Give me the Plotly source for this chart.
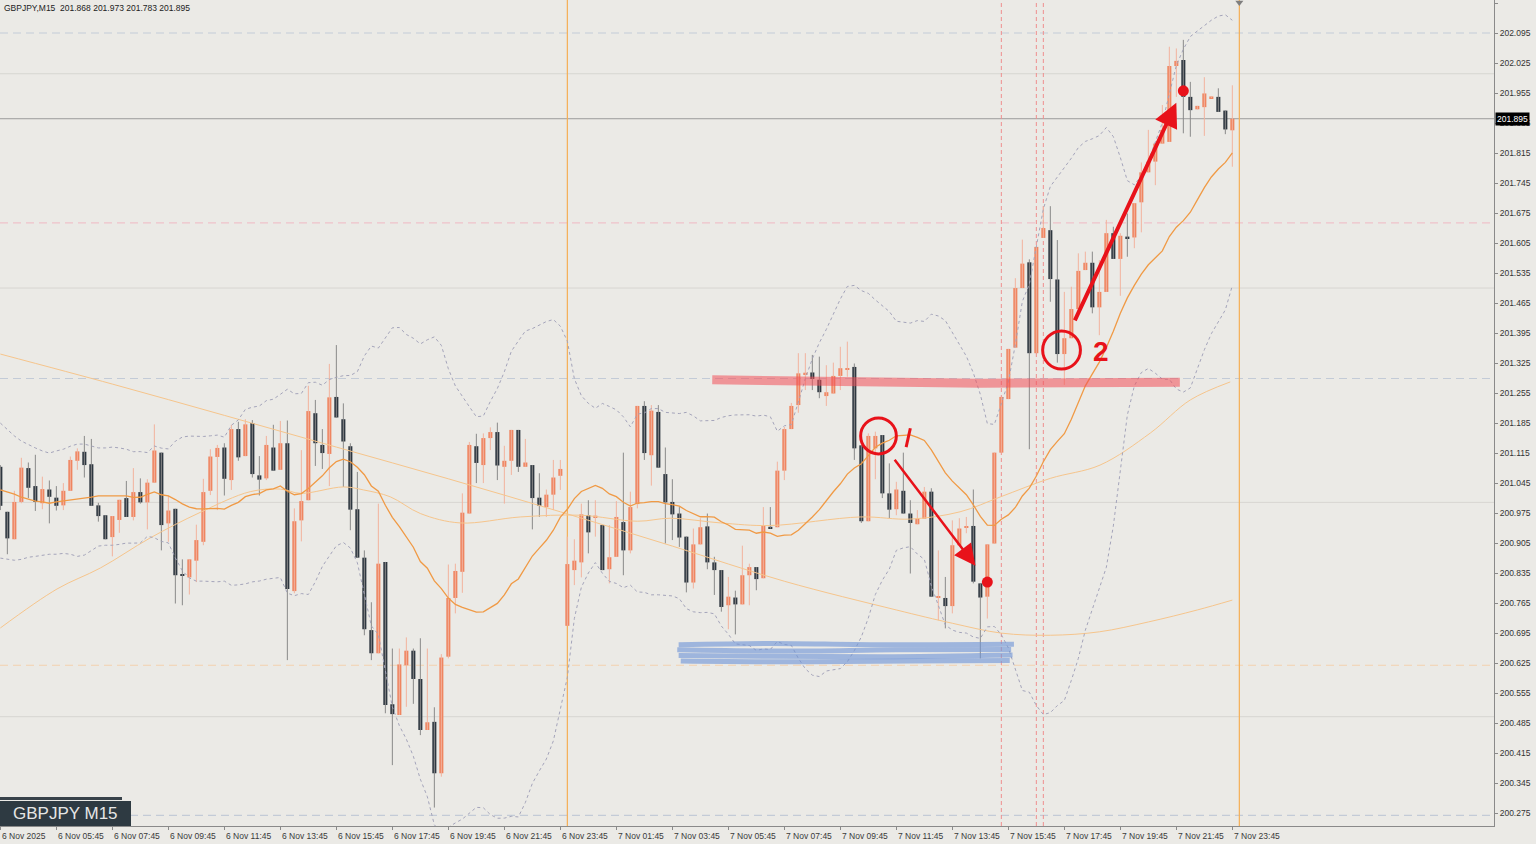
import numpy as np
import plotly.graph_objects as go

# ---------------- data ----------------
title_text = "GBPJPY,M15  201.868 201.973 201.783 201.895"
badge_text = "GBPJPY M15"
last_price = 201.895

time_labels = ["6 Nov 2025", "6 Nov 05:45", "6 Nov 07:45", "6 Nov 09:45", "6 Nov 11:45",
               "6 Nov 13:45", "6 Nov 15:45", "6 Nov 17:45", "6 Nov 19:45", "6 Nov 21:45",
               "6 Nov 23:45", "7 Nov 01:45", "7 Nov 03:45", "7 Nov 05:45", "7 Nov 07:45",
               "7 Nov 09:45", "7 Nov 11:45", "7 Nov 13:45", "7 Nov 15:45", "7 Nov 17:45",
               "7 Nov 19:45", "7 Nov 21:45", "7 Nov 23:45"]
label_bars = list(range(0, 177, 8))

opens = [
    201.083, 200.978, 200.914, 201.001, 201.080, 201.038, 200.998, 201.030, 201.011, 200.993,
    201.027, 201.097, 201.118, 201.089, 200.993, 200.970, 200.919, 200.959, 201.010, 200.966,
    201.024, 201.000, 201.046, 201.116, 200.951, 200.985, 200.832, 200.825, 200.864, 200.908,
    201.027, 201.106, 201.128, 201.052, 201.171, 201.108, 201.185, 201.063, 201.056, 201.128,
    201.076, 201.138, 200.793, 200.958, 201.005, 201.208, 201.134, 201.113, 201.246, 201.194,
    201.131, 200.984, 200.871, 200.702, 200.648, 200.861, 200.529, 200.504, 200.620, 200.654,
    200.588, 200.469, 200.488, 200.368, 200.640, 200.777, 200.838, 200.974, 201.131, 201.087,
    201.150, 201.164, 201.083, 201.097, 201.169, 201.083, 201.087, 201.011, 200.989, 201.018,
    201.062, 200.712, 200.842, 200.860, 200.970, 200.966, 200.947, 200.844, 200.873, 200.954,
    200.888, 200.996, 201.225, 201.110, 201.211, 201.066, 201.001, 200.974, 200.920, 200.813,
    200.902, 200.944, 200.860, 200.842, 200.760, 200.778, 200.762, 200.830, 200.849, 200.823,
    200.943, 200.942, 201.074, 201.171, 201.227, 201.299, 201.303, 201.286, 201.248, 201.254,
    201.295, 201.310, 201.316, 201.133, 200.956, 201.126, 201.157, 201.021, 200.984, 201.027,
    200.974, 200.949, 200.962, 201.025, 200.778, 200.777, 200.758, 200.900, 200.942, 200.945,
    200.811, 200.780, 200.904, 201.116, 201.241, 201.361, 201.500, 201.560, 201.348, 201.617,
    201.635, 201.520, 201.346, 201.383, 201.451, 201.542, 201.559, 201.455, 201.491, 201.628,
    201.568, 201.619, 201.618, 201.700, 201.770, 201.795, 201.837, 201.841, 202.018, 202.032,
    201.946, 201.917, 201.922, 201.944, 201.946, 201.914, 201.868]

highs = [
    201.087, 200.978, 201.027, 201.104, 201.093, 201.111, 201.060, 201.051, 201.038, 201.045,
    201.107, 201.126, 201.155, 201.148, 200.999, 200.970, 200.968, 201.006, 201.050, 201.080,
    201.056, 201.054, 201.182, 201.116, 201.016, 200.985, 200.867, 200.867, 200.948, 201.055,
    201.124, 201.134, 201.138, 201.181, 201.188, 201.194, 201.192, 201.108, 201.155, 201.181,
    201.190, 201.191, 200.986, 201.122, 201.272, 201.239, 201.171, 201.323, 201.367, 201.231,
    201.138, 201.071, 200.888, 200.767, 200.997, 200.861, 200.659, 200.659, 200.685, 200.659,
    200.683, 200.659, 200.522, 200.646, 200.855, 200.857, 201.021, 201.141, 201.160, 201.161,
    201.175, 201.186, 201.132, 201.169, 201.169, 201.148, 201.087, 201.068, 201.030, 201.099,
    201.099, 200.920, 200.914, 200.997, 201.005, 201.005, 200.947, 200.947, 201.003, 201.116,
    201.025, 201.225, 201.236, 201.227, 201.227, 201.128, 201.054, 200.989, 200.920, 200.939,
    200.963, 200.974, 200.873, 200.842, 200.826, 200.794, 200.899, 200.857, 200.849, 200.989,
    200.989, 201.095, 201.176, 201.232, 201.348, 201.348, 201.344, 201.340, 201.320, 201.326,
    201.363, 201.375, 201.324, 201.133, 201.161, 201.165, 201.157, 201.091, 201.048, 201.116,
    201.005, 200.982, 201.036, 201.033, 200.888, 200.826, 200.958, 200.963, 200.966, 201.030,
    200.811, 200.902, 201.116, 201.246, 201.358, 201.523, 201.613, 201.567, 201.596, 201.691,
    201.691, 201.612, 201.491, 201.503, 201.581, 201.585, 201.585, 201.565, 201.659, 201.643,
    201.628, 201.674, 201.698, 201.793, 201.869, 201.837, 201.927, 202.063, 202.059, 202.079,
    201.981, 201.925, 201.992, 201.946, 201.966, 201.914, 201.973]

lows = [
    200.982, 200.879, 200.914, 200.998, 201.010, 200.980, 200.984, 200.951, 200.981, 200.982,
    201.027, 201.076, 201.058, 200.992, 200.955, 200.914, 200.874, 200.929, 200.966, 200.958,
    200.997, 200.937, 201.046, 200.888, 200.908, 200.764, 200.760, 200.785, 200.814, 200.900,
    201.017, 200.982, 201.016, 201.029, 201.097, 201.108, 201.058, 201.016, 201.052, 201.074,
    201.076, 200.632, 200.788, 200.909, 201.005, 201.085, 201.078, 201.038, 201.198, 201.036,
    200.935, 200.871, 200.690, 200.632, 200.648, 200.508, 200.387, 200.504, 200.523, 200.530,
    200.457, 200.469, 200.288, 200.360, 200.636, 200.741, 200.789, 200.974, 201.045, 201.045,
    201.122, 201.052, 200.997, 201.064, 201.071, 201.083, 200.937, 200.966, 200.966, 200.982,
    201.029, 200.712, 200.807, 200.825, 200.881, 200.920, 200.842, 200.811, 200.873, 200.830,
    200.881, 200.986, 201.099, 201.039, 201.081, 200.904, 200.912, 200.896, 200.790, 200.799,
    200.902, 200.844, 200.784, 200.745, 200.704, 200.692, 200.762, 200.760, 200.795, 200.823,
    200.939, 200.942, 201.052, 201.171, 201.209, 201.262, 201.262, 201.243, 201.225, 201.254,
    201.262, 201.293, 201.099, 200.952, 200.956, 201.054, 201.010, 200.963, 200.970, 200.974,
    200.834, 200.949, 200.962, 200.780, 200.725, 200.706, 200.741, 200.900, 200.928, 200.811,
    200.636, 200.729, 200.904, 201.116, 201.241, 201.361, 201.500, 201.124, 201.348, 201.617,
    201.468, 201.326, 201.274, 201.383, 201.441, 201.542, 201.441, 201.390, 201.491, 201.568,
    201.482, 201.573, 201.593, 201.630, 201.770, 201.740, 201.837, 201.841, 201.946, 201.861,
    201.853, 201.917, 201.855, 201.943, 201.911, 201.859, 201.783]

closes = [
    200.992, 200.916, 201.001, 201.081, 201.034, 201.001, 201.031, 201.013, 200.992, 201.027,
    201.099, 201.119, 201.087, 200.992, 200.968, 200.914, 200.968, 201.006, 200.966, 201.024,
    201.000, 201.046, 201.121, 200.947, 200.981, 200.830, 200.829, 200.867, 200.912, 201.024,
    201.107, 201.127, 201.055, 201.171, 201.105, 201.182, 201.066, 201.053, 201.134, 201.074,
    201.138, 200.798, 200.956, 201.003, 201.213, 201.138, 201.115, 201.245, 201.198, 201.142,
    200.983, 200.871, 200.704, 200.648, 200.857, 200.527, 200.506, 200.622, 200.654, 200.588,
    200.469, 200.487, 200.368, 200.638, 200.777, 200.840, 200.976, 201.134, 201.092, 201.150,
    201.164, 201.086, 201.097, 201.169, 201.083, 201.093, 201.010, 200.992, 201.018, 201.058,
    201.078, 200.856, 200.864, 200.972, 200.930, 200.968, 200.842, 200.872, 200.966, 200.888,
    200.989, 201.225, 201.115, 201.214, 201.081, 201.000, 200.972, 200.918, 200.813, 200.902,
    200.942, 200.860, 200.842, 200.756, 200.780, 200.762, 200.830, 200.849, 200.821, 200.945,
    200.939, 201.074, 201.171, 201.225, 201.301, 201.302, 201.288, 201.257, 201.257, 201.295,
    201.313, 201.313, 201.126, 200.956, 201.155, 201.155, 201.021, 200.983, 201.030, 200.974,
    200.952, 200.962, 201.025, 200.780, 200.780, 200.758, 200.900, 200.939, 200.943, 200.815,
    200.778, 200.902, 201.116, 201.246, 201.358, 201.500, 201.557, 201.348, 201.596, 201.640,
    201.521, 201.346, 201.383, 201.451, 201.540, 201.559, 201.455, 201.491, 201.628, 201.568,
    201.622, 201.617, 201.698, 201.770, 201.795, 201.837, 201.869, 202.018, 202.030, 201.946,
    201.915, 201.925, 201.954, 201.946, 201.911, 201.870, 201.895]

# Bollinger(20,2) values for the first 19 bars (history not visible)
bb_mid_head = [201.029, 201.024, 201.019, 201.012, 201.008, 201.003, 201.001, 200.998, 201.001, 201.003,
               201.005, 201.008, 201.010, 201.012, 201.015, 201.015, 201.015, 201.015, 201.015]
bb_up_head = [201.185, 201.169, 201.155, 201.143, 201.134, 201.127, 201.120, 201.115, 201.120, 201.124,
              201.131, 201.136, 201.136, 201.131, 201.127, 201.127, 201.129, 201.127, 201.124]
bb_lo_head = [200.870, 200.867, 200.865, 200.867, 200.872, 200.874, 200.877, 200.879, 200.879, 200.881,
              200.879, 200.874, 200.877, 200.888, 200.898, 200.900, 200.900, 200.902, 200.905]
bb_period = 20

# slow moving average
ma_slow_bars = [0, 16, 32, 48, 64, 80, 96, 112, 128, 136, 143, 150, 157, 164, 171, 176]
ma_slow_vals = [201.346, 201.276, 201.203, 201.129, 201.055, 200.978, 200.898, 200.816, 200.749,
                200.718, 200.695, 200.690, 200.698, 200.721, 200.749, 200.772]
# medium moving average
ma_med_bars = [0, 8.1, 14.3, 21.4, 28.6, 35.7, 40, 42.9, 49, 51.9, 55.7, 60, 65.7, 74.3, 82.9, 91,
               95.7, 102.9, 110, 122.9, 130, 137.1, 142.9, 150, 157.1, 164.3, 170, 175.7]
ma_med_vals = [200.707, 200.798, 200.847, 200.917, 200.977, 201.025, 201.031, 201.021, 201.036, 201.029,
               201.013, 200.974, 200.952, 200.966, 200.970, 200.956, 200.963, 200.952, 200.946, 200.966,
               200.961, 200.978, 201.013, 201.056, 201.087, 201.162, 201.239, 201.281]

# reference levels
solid_levels = [202.0, 201.5, 201.0, 200.5]
dashed_levels = [202.095, 201.289, 200.270]
pink_level = 201.652
peach_level = 200.620
day_sep_bars = [81, 177]
event_bars = [143, 148, 149]

# hand-drawn markup (bar index, price)
red_zone_bars = [101.7, 120, 140, 168.5]
red_zone_prices = [201.286, 201.282, 201.278, 201.280]
blue_zone_bars = [[96.9, 110, 125, 144.8], [96.7, 112, 128, 144.4],
                  [96.9, 110, 126, 144.6], [97.2, 114, 130, 144.2]]
blue_zone_prices = [[200.668, 200.671, 200.668, 200.669], [200.656, 200.653, 200.656, 200.657],
                    [200.643, 200.641, 200.640, 200.644], [200.630, 200.628, 200.630, 200.631]]
circle_1 = (122.9, 128.0, 201.113, 201.197)
circle_2 = (148.9, 154.3, 201.311, 201.400)
arrow_1 = ((127.6, 201.103), (139.3, 200.852))
arrow_2 = ((153.4, 201.421), (168.0, 201.932))
dot_bars = [141.0, 169.0]
dot_prices = [200.814, 201.960]
mark_1 = ((129.4, 201.129), (130.0, 201.173))
label_2 = (157.3, 201.351)

# ---------------- styling ----------------
BG = "#EBEAE6"
BULL = "#EF8560"
BEAR = "#2E3740"
BULL_WICK = "#F2B39E"
BEAR_WICK = "#8A8A8A"
RED = "#E8121A"
FONT = "Liberation Sans"

o = np.array(opens); h = np.array(highs); l = np.array(lows); c = np.array(closes)
n = len(c)
idx = np.arange(n)
bull = c >= o

# Bollinger bands
mid = np.empty(n); up = np.empty(n); lo = np.empty(n)
for i in range(n):
    if i < bb_period - 1:
        mid[i], up[i], lo[i] = bb_mid_head[i], bb_up_head[i], bb_lo_head[i]
    else:
        w = c[i - bb_period + 1:i + 1]
        m = w.mean(); s = w.std()
        mid[i], up[i], lo[i] = m, m + 2 * s, m - 2 * s

fig = go.Figure()

# wicks
def wick_trace(mask, color):
    xs, ys = [], []
    for i in idx[mask]:
        xs += [i, i, None]
        ys += [l[i], h[i], None]
    return go.Scatter(x=xs, y=ys, mode="lines", line=dict(color=color, width=1),
                      hoverinfo="skip", showlegend=False)

fig.add_trace(wick_trace(bull, BULL_WICK))
fig.add_trace(wick_trace(~bull, BEAR_WICK))

# bodies
body_h = np.maximum(np.abs(c - o), 0.004)
body_b = (o + c) / 2 - body_h / 2
for mask, col in ((bull, BULL), (~bull, BEAR)):
    fig.add_trace(go.Bar(x=idx[mask], y=body_h[mask], base=body_b[mask], width=0.58,
                         marker=dict(color=col, line=dict(width=0)),
                         hoverinfo="skip", showlegend=False))

# indicators
fig.add_trace(go.Scatter(x=ma_slow_bars, y=ma_slow_vals, mode="lines", line_shape="spline",
                         line=dict(color="#F6C58C", width=1), hoverinfo="skip"))
fig.add_trace(go.Scatter(x=ma_med_bars, y=ma_med_vals, mode="lines", line_shape="spline",
                         line=dict(color="#F6C58C", width=1), hoverinfo="skip"))
fig.add_trace(go.Scatter(x=idx, y=up, mode="lines", line=dict(color="#A4A4BA", width=1, dash="dot"),
                         hoverinfo="skip"))
fig.add_trace(go.Scatter(x=idx, y=lo, mode="lines", line=dict(color="#A4A4BA", width=1, dash="dot"),
                         hoverinfo="skip"))
fig.add_trace(go.Scatter(x=idx, y=mid, mode="lines", line=dict(color="#F09A45", width=1.3),
                         hoverinfo="skip"))

# markup zones
fig.add_trace(go.Scatter(x=red_zone_bars, y=red_zone_prices, mode="lines",
                         line=dict(color="rgba(242,78,88,0.55)", width=9), hoverinfo="skip"))
for xx, yy in zip(blue_zone_bars, blue_zone_prices):
    fig.add_trace(go.Scatter(x=xx, y=yy, mode="lines", line_shape="spline",
                             line=dict(color="rgba(112,148,214,0.62)", width=5), hoverinfo="skip"))
fig.add_trace(go.Scatter(x=dot_bars, y=dot_prices, mode="markers",
                         marker=dict(color=RED, size=11), hoverinfo="skip"))
# shift marker
fig.add_trace(go.Scatter(x=[day_sep_bars[1]], y=[202.166], mode="markers", cliponaxis=False,
                         marker=dict(symbol="triangle-down", color="#7F7F7F", size=7), hoverinfo="skip"))

shapes = []
for lv in solid_levels:
    shapes.append(dict(type="line", xref="paper", x0=0, x1=1, yref="y", y0=lv, y1=lv,
                       line=dict(color="#D7D6D1", width=1), layer="below"))
for lv in dashed_levels:
    shapes.append(dict(type="line", xref="paper", x0=0, x1=1, yref="y", y0=lv, y1=lv,
                       line=dict(color="#C3CBD7", width=1.2, dash="8px,5px"), layer="below"))
shapes.append(dict(type="line", xref="paper", x0=0, x1=1, yref="y", y0=pink_level, y1=pink_level,
                   line=dict(color="#EFC2CA", width=1.2, dash="8px,5px"), layer="below"))
shapes.append(dict(type="line", xref="paper", x0=0, x1=1, yref="y", y0=peach_level, y1=peach_level,
                   line=dict(color="#F3D1AE", width=1.2, dash="8px,5px"), layer="below"))
shapes.append(dict(type="line", xref="paper", x0=0, x1=1, yref="y", y0=last_price, y1=last_price,
                   line=dict(color="#9C9C9C", width=1), layer="below"))
for b in day_sep_bars:
    shapes.append(dict(type="line", xref="x", x0=b, x1=b, yref="paper", y0=0, y1=1,
                       line=dict(color="#F5AE55", width=1.2), layer="below"))
for b in event_bars:
    shapes.append(dict(type="line", xref="x", x0=b, x1=b, yref="paper", y0=0, y1=1,
                       line=dict(color="#EF8F8F", width=1, dash="4px,3px"), layer="below"))
for cx0, cx1, cy0, cy1 in (circle_1, circle_2):
    shapes.append(dict(type="circle", xref="x", yref="y", x0=cx0, x1=cx1, y0=cy0, y1=cy1,
                       line=dict(color=RED, width=3)))
shapes.append(dict(type="line", xref="x", yref="y", x0=mark_1[0][0], y0=mark_1[0][1],
                   x1=mark_1[1][0], y1=mark_1[1][1], line=dict(color=RED, width=3)))
# badge
PW, PH = 1494.0, 826.0
shapes.append(dict(type="rect", xref="paper", yref="paper", x0=0, x1=122 / PW,
                   y0=(PH - 800) / PH, y1=(PH - 797) / PH, line=dict(width=0), fillcolor="#38424A"))
shapes.append(dict(type="rect", xref="paper", yref="paper", x0=0, x1=131 / PW,
                   y0=0, y1=(PH - 801) / PH, line=dict(width=0), fillcolor="#2E3A42"))

annotations = []
for b, t in zip(label_bars, time_labels):
    annotations.append(dict(x=b, xref="x", y=0, yref="paper", text=t, showarrow=False,
                            xanchor="left", yanchor="top", yshift=-3,
                            font=dict(family=FONT, size=8.5, color="#3A3A3A")))
annotations.append(dict(x=0, xref="paper", y=1, yref="paper", text=title_text, showarrow=False,
                        xanchor="left", yanchor="top", xshift=2, yshift=-1,
                        font=dict(family=FONT, size=8.5, color="#222222")))
annotations.append(dict(x=1, xref="paper", y=last_price, yref="y", text=f"{last_price:.3f}",
                        showarrow=False, xanchor="left", yanchor="middle", xshift=1,
                        bgcolor="#000000", borderpad=1,
                        font=dict(family=FONT, size=8.5, color="#FFFFFF")))
annotations.append(dict(x=65.5 / PW, xref="paper", y=(PH - 813.5) / PH, yref="paper", text=badge_text,
                        showarrow=False, xanchor="center", yanchor="middle",
                        font=dict(family=FONT, size=17, color="#E6E6E6")))
for (tx, ty), (hx, hy), wdt, sz in ((arrow_1[0], arrow_1[1], 2.5, 1.7), (arrow_2[0], arrow_2[1], 4, 1.2)):
    annotations.append(dict(x=hx, y=hy, xref="x", yref="y", ax=tx, ay=ty, axref="x", ayref="y",
                            showarrow=True, arrowhead=2, arrowsize=sz, arrowwidth=wdt,
                            arrowcolor=RED, text=""))
annotations.append(dict(x=label_2[0], y=label_2[1], xref="x", yref="y", text="<b>2</b>",
                        showarrow=False, font=dict(family=FONT, size=28, color=RED)))

tick_vals = [round(200.275 + 0.07 * i, 3) for i in range(28)]
fig.update_layout(
    width=1536, height=844, margin=dict(l=0, r=42, t=0, b=18, autoexpand=False),
    paper_bgcolor=BG, plot_bgcolor=BG, showlegend=False, barmode="overlay",
    hovermode=False, shapes=shapes, annotations=annotations,
    xaxis=dict(range=[-0.05, 213.38], showgrid=False, zeroline=False, tickvals=label_bars,
               ticks="outside", ticklen=3, tickcolor="#8A8A8A", showticklabels=False,
               showline=True, linecolor="#8A8A8A", linewidth=1, mirror=True, fixedrange=True),
    yaxis=dict(range=[200.245, 202.172], side="right", showgrid=False, zeroline=False,
               tickvals=tick_vals, ticktext=[f"{v:.3f}" for v in tick_vals],
               ticks="outside", ticklen=3, tickcolor="#8A8A8A",
               tickfont=dict(family=FONT, size=8.5, color="#333333"),
               showline=True, linecolor="#8A8A8A", linewidth=1, mirror=True, fixedrange=True),
)

fig.write_html("out.html", config={"displayModeBar": False},
               post_script="document.body.style.margin='0';document.body.style.overflow='hidden';")
